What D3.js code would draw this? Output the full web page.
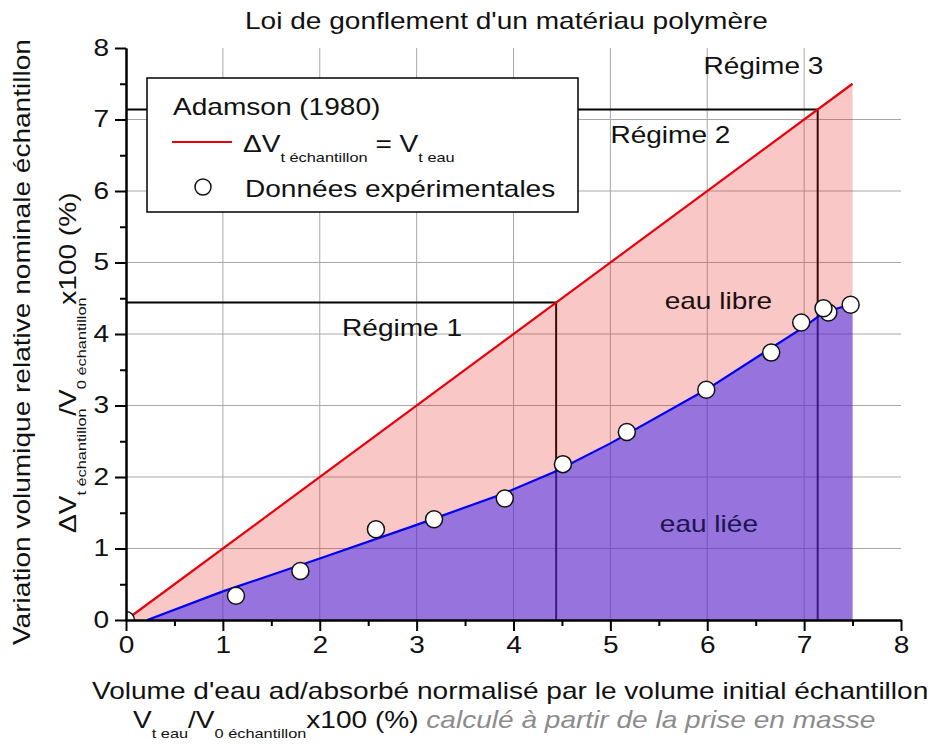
<!DOCTYPE html>
<html>
<head>
<meta charset="utf-8">
<script src="https://cdn.jsdelivr.net/npm/d3@7"></script>
<style>
  body { margin: 0; background: #fff; }
  text { font-family: "Liberation Sans", Arial, sans-serif; }
</style>
</head>
<body>
<script>
// ---- data ----
var xTicks = [0, 1, 2, 3, 4, 5, 6, 7, 8];
var yTicks = [0, 1, 2, 3, 4, 5, 6, 7, 8];
var minorTicks = [0.5, 1.5, 2.5, 3.5, 4.5, 5.5, 6.5, 7.5];
var gridValues = [1, 2, 3, 4, 5, 6, 7];

// Adamson (1980): dV echantillon = V eau
var adamsonX = [0, 7.5];
var adamsonY = [0, 7.5];

// blue curve (eau liee)
var fitX = [0.22, 1, 2, 3, 3.9, 4.42, 5, 6, 7, 7.14, 7.25, 7.5];
var fitY = [0, 0.40, 0.86, 1.33, 1.77, 2.07, 2.47, 3.23, 4.10, 4.24, 4.32, 4.42];

// experimental points
var expX = [0, 1.135, 1.80, 2.58, 3.18, 3.91, 4.51, 5.17, 5.99, 6.66, 6.97, 7.25, 7.20, 7.48];
var expY = [0, 0.34, 0.685, 1.27, 1.41, 1.70, 2.18, 2.63, 3.22, 3.74, 4.16, 4.30, 4.36, 4.41];

// regime limits
var regimeLimits = [4.44, 7.14];

var regimeLabels = ["Régime 1", "Régime 2", "Régime 3"];
var waterLabels = ["eau libre", "eau liée"];

// ---- setup ----
var width = 939, height = 749;
var stretch = 1.22;   // text in the picture is wider than plain Arial
var fontSize = 23;
var subSize = 13.4;

var svg = d3.select("body").append("svg")
  .attr("width", width)
  .attr("height", height);

var x = d3.scaleLinear().domain([0, 8]).range([126, 901]);
var y = d3.scaleLinear().domain([0, 8]).range([620, 48]);

// text with subscripts; parts = [{t:"..", sub:true}, ...]
function richText(parent, px, py, parts, opts) {
  opts = opts || {};
  var t = parent.append("text")
    .attr("transform", "translate(" + px + "," + py + ") rotate(" + (opts.rotate || 0) + ") scale(" + stretch + ",1)")
    .attr("font-size", opts.size || fontSize)
    .attr("fill", opts.fill || "#111")
    .attr("text-anchor", opts.anchor || "start");
  var shift = 0;
  parts.forEach(function (p) {
    var target = p.sub ? 10 : 0;
    var ts = t.append("tspan")
      .attr("dy", target - shift)
      .attr("font-size", p.sub ? subSize : (opts.size || fontSize))
      .text(p.t);
    if (p.dx) ts.attr("dx", p.dx);
    if (p.fill) ts.attr("fill", p.fill);
    if (p.italic) ts.attr("font-style", "italic");
    shift = target;
  });
  return t;
}

// ---- grid ----
var grid = svg.append("g").attr("stroke", "#a8a8a8").attr("stroke-width", 1);
grid.selectAll(".gx").data(gridValues).enter().append("line")
  .attr("x1", function (d) { return x(d); })
  .attr("x2", function (d) { return x(d); })
  .attr("y1", y(0)).attr("y2", y(8));
grid.selectAll(".gy").data(gridValues).enter().append("line")
  .attr("x1", x(0)).attr("x2", x(8))
  .attr("y1", function (d) { return y(d); })
  .attr("y2", function (d) { return y(d); });

// ---- regime limits (black lines) ----
var lim = svg.append("g").attr("stroke", "#000").attr("stroke-width", 2).attr("fill", "none");
regimeLimits.forEach(function (v) {
  lim.append("path")
    .attr("d", "M" + x(0) + "," + y(v) + "H" + x(v) + "V" + y(0));
});

// ---- regime labels ----
richText(svg, x(2.23), y(3.97), [{ t: regimeLabels[0] }]);
richText(svg, x(5.0), y(6.67), [{ t: regimeLabels[1] }]);
richText(svg, x(5.96), y(7.64), [{ t: regimeLabels[2] }]);

// ---- fills ----
var adamson = adamsonX.map(function (d, i) { return [d, adamsonY[i]]; });
var fit = fitX.map(function (d, i) { return [d, fitY[i]]; });

var area = d3.area()
  .x(function (d) { return x(d[0]); })
  .y0(y(0))
  .y1(function (d) { return y(d[1]); });

svg.append("path").datum(adamson)
  .attr("d", area)
  .attr("fill", "rgb(235,40,40)")
  .attr("fill-opacity", 0.26);

svg.append("path").datum(fit)
  .attr("d", area)
  .attr("fill", "rgb(60,40,240)")
  .attr("fill-opacity", 0.53);

// water labels sit on the fills
richText(svg, x(5.56), y(4.35), [{ t: waterLabels[0] }], { fill: "#1a1010" });
richText(svg, x(5.51), y(1.23), [{ t: waterLabels[1] }], { fill: "#1c1650" });

// ---- lines ----
var line = d3.line()
  .x(function (d) { return x(d[0]); })
  .y(function (d) { return y(d[1]); });

svg.append("path").datum(adamson)
  .attr("d", line)
  .attr("fill", "none")
  .attr("stroke", "#e8000b")
  .attr("stroke-width", 2.2);

svg.append("path").datum(fit)
  .attr("d", line)
  .attr("fill", "none")
  .attr("stroke", "#0000ee")
  .attr("stroke-width", 2.2);

// ---- points ----
svg.append("clipPath").attr("id", "plotClip")
  .append("rect")
  .attr("x", x(0)).attr("y", y(8))
  .attr("width", x(8) - x(0)).attr("height", y(0) - y(8));

svg.append("g").attr("clip-path", "url(#plotClip)")
  .selectAll("circle").data(expX).enter().append("circle")
  .attr("cx", function (d) { return x(d); })
  .attr("cy", function (d, i) { return y(expY[i]); })
  .attr("r", 8.5)
  .attr("fill", "#fff")
  .attr("stroke", "#111")
  .attr("stroke-width", 1.5);

// ---- axes ----
var xAxis = svg.append("g").attr("transform", "translate(0," + y(0) + ")")
  .call(d3.axisBottom(x).tickValues(xTicks).tickSize(11).tickSizeOuter(0).tickPadding(6).tickFormat(d3.format("d")));
svg.append("g").attr("transform", "translate(0," + y(0) + ")")
  .call(d3.axisBottom(x).tickValues(minorTicks).tickSize(6).tickSizeOuter(0).tickFormat(""));

var yAxis = svg.append("g").attr("transform", "translate(" + x(0) + ",0)")
  .call(d3.axisLeft(y).tickValues(yTicks).tickSize(11).tickSizeOuter(0).tickPadding(6).tickFormat(d3.format("d")));
svg.append("g").attr("transform", "translate(" + x(0) + ",0)")
  .call(d3.axisLeft(y).tickValues(minorTicks).tickSize(6).tickSizeOuter(0).tickFormat(""));

svg.selectAll(".domain").attr("stroke", "#000").attr("stroke-width", 2);
svg.selectAll(".tick line").attr("stroke", "#000").attr("stroke-width", 2);
svg.selectAll(".tick text")
  .attr("font-size", fontSize)
  .attr("font-family", "Liberation Sans, Arial, sans-serif")
  .attr("fill", "#111");
xAxis.selectAll(".tick text").attr("transform", "scale(" + stretch + ",1)");
yAxis.selectAll(".tick text")
  .attr("x", -17 / stretch)
  .attr("transform", "scale(" + stretch + ",1)");

// ---- legend ----
var legend = svg.append("g");
legend.append("rect")
  .attr("x", 147).attr("y", 78)
  .attr("width", 431).attr("height", 134)
  .attr("fill", "#fff")
  .attr("stroke", "#000")
  .attr("stroke-width", 1.5);
richText(legend, 173, 115, [{ t: "Adamson (1980)" }]);
legend.append("line")
  .attr("x1", 172).attr("x2", 232)
  .attr("y1", 142).attr("y2", 142)
  .attr("stroke", "#e8000b").attr("stroke-width", 2.2);
richText(legend, 243, 152, [
  { t: "\u0394V" }, { t: "t échantillon", sub: true },
  { t: " = V" }, { t: "t eau", sub: true }
]);
legend.append("circle")
  .attr("cx", 203).attr("cy", 187).attr("r", 8)
  .attr("fill", "#fff").attr("stroke", "#111").attr("stroke-width", 1.5);
richText(legend, 245, 197, [{ t: "Données expérimentales" }]);

// ---- titles ----
richText(svg, 245, 29, [{ t: "Loi de gonflement d'un matériau polymère" }]);

richText(svg, 92, 699, [{ t: "Volume d'eau ad/absorbé normalisé par le volume initial échantillon" }]);
richText(svg, 133, 728, [
  { t: "V" }, { t: "t eau", sub: true },
  { t: "/V" }, { t: "0 échantillon", sub: true },
  { t: "x100 (%)" },
  { t: " calculé à partir de la prise en masse", italic: true, fill: "#8c8c8c" }
]);

richText(svg, 30, 645, [{ t: "Variation volumique relative nominale échantillon" }], { rotate: -90 });
richText(svg, 76, 533, [
  { t: "\u0394V" }, { t: "t échantillon", sub: true },
  { t: "/V", dx: -6 }, { t: "0 échantillon", sub: true },
  { t: "x100 (%)", dx: -6 }
], { rotate: -90 });
</script>
</body>
</html>
